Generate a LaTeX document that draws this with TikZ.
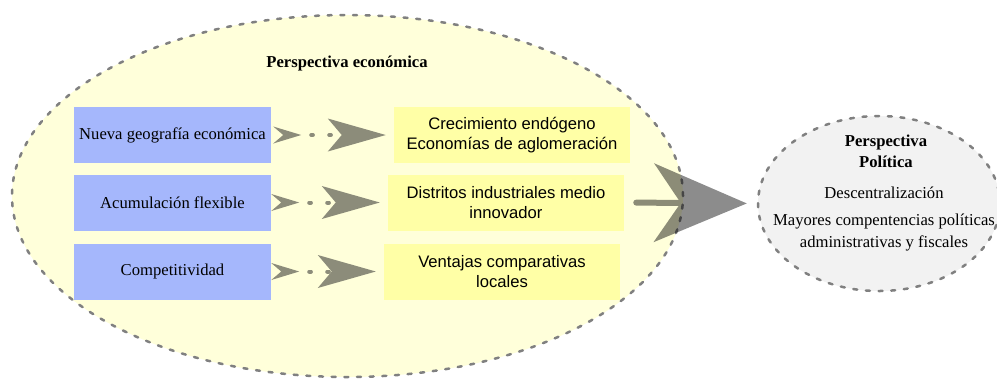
\documentclass[tikz,border=0pt]{standalone}
\usepackage{fontspec}
\setmainfont{Liberation Serif}
\setsansfont{Liberation Sans}
\usetikzlibrary{arrows.meta,shapes.geometric}

\newcommand\pxu{0.3mm}
\definecolor{ecofill}{RGB}{255,255,218}
\definecolor{polfill}{RGB}{242,242,242}
\definecolor{causablue}{RGB}{165,183,252}
\definecolor{efectoyellow}{RGB}{255,255,166}
\definecolor{flechagray}{RGB}{140,140,122}
\definecolor{bordegray}{RGB}{128,128,128}

\tikzset{
  borde/.style={draw=bordegray, line width=0.75mm, line cap=round, dash pattern=on 1.2mm off 2.6mm},
  causa/.style={fill=causablue, minimum width=197*\pxu, minimum height=56*\pxu, inner sep=0pt, font=\fontsize{14.2}{17}\selectfont},
  efecto/.style={fill=efectoyellow, minimum width=236*\pxu, minimum height=56*\pxu, inner sep=0pt, align=center, font=\sffamily\fontsize{14.2}{17.5}\selectfont},
  flecha/.style={draw=flechagray, line width=1.2mm, line cap=round, dash pattern=on 0.5mm off 4.9mm, dash phase=2.4mm,
    arrows={Stealth[reversed,length=8.4mm,width=5.1mm,inset=3mm,line width=0pt]-Stealth[length=17.4mm,width=9.9mm,inset=4.2mm,line width=0pt]},
    shorten >=8*\pxu}
}

\begin{document}
\begin{tikzpicture}[x=0.03cm,y=-0.03cm]
\useasboundingbox (0,0) rectangle (997,378);

% los dos conjuntos
\node[ellipse, fill=ecofill, borde, minimum width=671*\pxu, minimum height=362*\pxu] (eco) at (347.5,196) {};
\node[ellipse, fill=polfill, borde, minimum width=242*\pxu, minimum height=175*\pxu] (pol) at (879,203.5) {};

\node[font=\bfseries\fontsize{14.2}{17}\selectfont] (ecotit) at (347,63) {Perspectiva económica};

% causas
\node[causa] (c1) at (172.5,135) {Nueva geografía económica};
\node[causa] (c2) at (172.5,202.5) {Acumulación flexible};
\node[causa] (c3) at (172.5,271.5) {Competitividad};

% efectos
\node[efecto] (e1) at (512,135) {Crecimiento endógeno\\Economías de aglomeración};
\node[efecto] (e2) at (506,202.5) {Distritos industriales medio\\innovador};
\node[efecto] (e3) at (502,271.5) {Ventajas comparativas\\locales};

\draw[flecha, shorten <=2*\pxu] (c1) -- (e1);
\draw[flecha] (c2) -- (e2);
\draw[flecha] (c3) -- (e3);

% texto politico
\node[font=\bfseries\fontsize{14.2}{18}\selectfont, align=center] (poltit) at (886,151.5) {Perspectiva\\Política};
\node[font=\fontsize{14.2}{18}\selectfont, align=center] (poltxt) at (884,219) {Descentralización\\[5pt]Mayores compentencias políticas\\administrativas y fiscales};

\begin{scope}[transparency group, opacity=0.45]
\draw[line width=1.8mm, line cap=round, -{Stealth[length=27.9mm,width=23.7mm,inset=8.1mm,line width=0pt]}, shorten <=12*\pxu, shorten >=10*\pxu] (e2.east) -- (pol.west);
\end{scope}

\end{tikzpicture}
\end{document}
